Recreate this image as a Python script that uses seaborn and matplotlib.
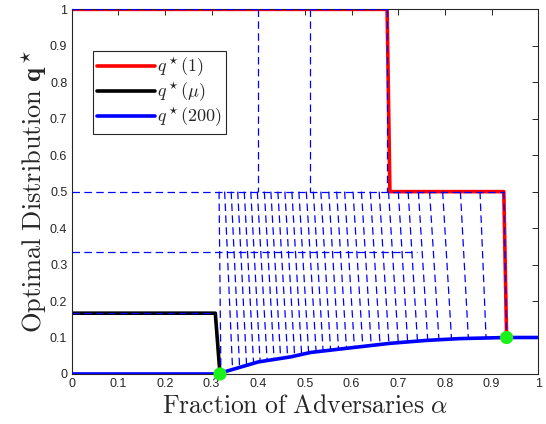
import numpy as np
import pandas as pd
import matplotlib
matplotlib.use("Agg")
import matplotlib.pyplot as plt
from matplotlib.ticker import FormatStrFormatter
import seaborn as sns

# main curves
q1_x = [0.0, 0.676, 0.682, 0.926, 0.932]
q1_y = [1.0, 1.0, 0.5, 0.5, 0.1]
qmu_x = [0.0, 0.308, 0.318]
qmu_y = [1 / 6, 1 / 6, 0.0]
q200_x = [0.0, 0.316, 0.320, 0.400, 0.470, 0.512, 0.600, 0.682, 0.760, 0.832, 0.932, 1.0]
q200_y = [0.0, 0.0, 0.003, 0.033, 0.047, 0.059, 0.072, 0.084, 0.092, 0.097, 0.100, 0.100]
dots_x = [0.318, 0.932]
dots_y = [0.0, 0.100]

# intermediate q*(n), dashed: flat levels and steps
flat_y = [1.0, 0.5, 1 / 3, 1 / 6]
flat_xend = [0.676, 0.926, 0.740, 0.308]
step_x = [0.400, 0.510, 0.676]   # drops from 1 to 0.5
# near-vertical drops from 0.5 down to q*(200)
drop_top_x = [0.316, 0.328, 0.342, 0.356, 0.370, 0.384, 0.398, 0.413, 0.427, 0.442,
              0.457, 0.472, 0.487, 0.503, 0.518, 0.534, 0.551, 0.568, 0.585, 0.603,
              0.621, 0.640, 0.659, 0.679, 0.700, 0.721, 0.743, 0.767, 0.795, 0.833,
              0.875, 0.926]
drop_bot_x = [0.320, 0.345, 0.360, 0.375, 0.390, 0.404, 0.419, 0.434, 0.448, 0.463,
              0.478, 0.493, 0.508, 0.524, 0.539, 0.555, 0.572, 0.589, 0.606, 0.624,
              0.642, 0.661, 0.680, 0.700, 0.720, 0.741, 0.763, 0.787, 0.814, 0.850,
              0.888, 0.932]
drop_bot_y = [0.004, 0.012, 0.018, 0.023, 0.029, 0.033, 0.036, 0.039, 0.042, 0.045,
              0.048, 0.052, 0.056, 0.059, 0.062, 0.064, 0.067, 0.069, 0.072, 0.074,
              0.077, 0.079, 0.082, 0.085, 0.087, 0.090, 0.092, 0.094, 0.096, 0.098,
              0.099, 0.100]

sns.set_style("white")
plt.rcParams["font.family"] = ["Liberation Sans", "DejaVu Sans"]
plt.rcParams["mathtext.fontset"] = "cm"

fig = plt.figure(figsize=(5.46, 4.24), dpi=100)
ax = fig.add_axes([0.131, 0.118, 0.855, 0.860])

thick = 2.6
blue = (0, 0, 1)
dash_kw = dict(color=blue, lw=0.9, dashes=(6, 3.5), zorder=3)

main = pd.concat([
    pd.DataFrame({"x": q1_x, "y": q1_y, "c": r"$q^\star(1)$"}),
    pd.DataFrame({"x": qmu_x, "y": qmu_y, "c": r"$q^\star(\mu)$"}),
    pd.DataFrame({"x": q200_x, "y": q200_y, "c": r"$q^\star(200)$"}),
])
sns.lineplot(data=main[main.c != r"$q^\star(200)$"], x="x", y="y", hue="c",
             palette=[(1, 0, 0), (0, 0, 0)], sort=False, estimator=None,
             lw=thick, ax=ax, zorder=2)

# dashed family
for y, xe in zip(flat_y, flat_xend):
    ax.plot([0, xe], [y, y], **dash_kw)
for sx in step_x:
    ax.plot([sx, sx], [1.0, 0.5], **dash_kw)
for tx, bx, by in zip(drop_top_x, drop_bot_x, drop_bot_y):
    ax.plot([tx, bx], [0.5, by], **dash_kw)

sns.lineplot(data=main[main.c == r"$q^\star(200)$"], x="x", y="y", hue="c",
             palette=[blue], sort=False, estimator=None, lw=thick, ax=ax, zorder=4)
sns.scatterplot(x=dots_x, y=dots_y, color=(0.1, 0.95, 0.1), s=90, edgecolor="none",
                ax=ax, zorder=5, clip_on=False)

ax.set_xlim(0, 1)
ax.set_ylim(0, 1)
ax.set_xticks(np.arange(0, 1.01, 0.1))
ax.set_yticks(np.arange(0, 1.01, 0.1))
fmt = FormatStrFormatter("%g")
ax.xaxis.set_major_formatter(fmt)
ax.yaxis.set_major_formatter(fmt)
ax.tick_params(direction="in", length=4, width=0.7, top=True, right=True,
               labelsize=9, colors="0.15", pad=3)
for sp in ax.spines.values():
    sp.set_color("0.15")
    sp.set_linewidth(0.8)

ax.set_xlabel(r"$\mathrm{Fraction\ of\ Adversaries}\ \alpha$", fontsize=18.5,
              labelpad=3, color="0.15")
ax.set_ylabel(r"$\mathrm{Optimal\ Distribution}\ \mathbf{q}^\star$", fontsize=19,
              labelpad=1, color="0.15")

h, l = ax.get_legend_handles_labels()
leg = ax.legend(h, l, loc="upper left", bbox_to_anchor=(0.045, 0.886), fontsize=13,
                frameon=True, fancybox=False, edgecolor="0.15", framealpha=1,
                handlelength=3.2, handletextpad=0.1, borderpad=0.25,
                labelspacing=0.1, borderaxespad=0)
leg.get_frame().set_linewidth(0.8)

fig.savefig("out.png", dpi=100)
